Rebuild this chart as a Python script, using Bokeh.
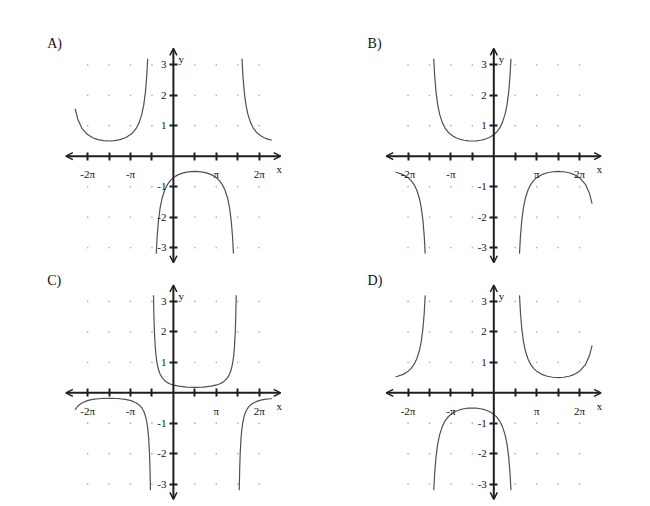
import math
from bokeh.plotting import figure
from bokeh.layouts import column, row
from bokeh.models import Range1d, LinearAxis, FixedTicker, Arrow, OpenHead, Label
from bokeh.core.properties import value
from bokeh.embed import file_html
from bokeh.resources import INLINE

PI = math.pi

# ---------------- tick data ----------------
x_tick_values = [-2 * PI, -1.5 * PI, -PI, -0.5 * PI, 0.5 * PI, PI, 1.5 * PI, 2 * PI]
x_tick_labels = ["-2π", "", "-π", "", "", "π", "", "2π"]
y_tick_values = [-3, -2, -1, 1, 2, 3]
y_tick_labels = ["-3", "-2", "-1", "1", "2", "3"]
panel_names = ["A)", "B)", "C)", "D)"]

# ---------------- curve data ----------------
# Panel A
a_left_x = [-7.2, -7.012, -6.712, -6.312, -5.912, -5.512, -5.112, -4.712, -4.312, -3.912,
            -3.512, -3.112, -2.912, -2.712, -2.512, -2.312, -2.172, -2.052, -1.952, -1.884]
a_left_y = [1.558, 1.224, 0.925, 0.718, 0.606, 0.543, 0.510, 0.500, 0.510, 0.543,
            0.606, 0.718, 0.804, 0.925, 1.102, 1.380, 1.688, 2.097, 2.639, 3.2]
a_mid_x = [-1.257, -1.189, -1.089, -0.969, -0.829, -0.629, -0.429, -0.229, -0.029, 0.171,
           0.371, 0.671, 0.971, 1.271, 1.571, 1.871, 2.171, 2.471, 2.771, 2.971,
           3.171, 3.371, 3.571, 3.771, 3.971, 4.111, 4.231, 4.331, 4.399]
a_mid_y = [-3.2, -2.639, -2.097, -1.688, -1.380, -1.102, -0.925, -0.804, -0.718, -0.654,
           -0.606, -0.555, -0.523, -0.506, -0.500, -0.506, -0.523, -0.555, -0.606, -0.654,
           -0.718, -0.804, -0.925, -1.102, -1.380, -1.688, -2.097, -2.639, -3.2]
a_right_x = [5.026, 5.094, 5.194, 5.314, 5.454, 5.654, 5.854, 6.054, 6.254, 6.454,
             6.654, 6.854, 7.054, 7.2]
a_right_y = [3.2, 2.639, 2.097, 1.688, 1.380, 1.102, 0.925, 0.804, 0.718, 0.654,
             0.606, 0.570, 0.543, 0.528]

# Panel B
b_left_x = [-7.2, -7.054, -6.854, -6.654, -6.454, -6.254, -6.054, -5.854, -5.654, -5.454,
            -5.314, -5.194, -5.094, -5.026]
b_left_y = [-0.528, -0.543, -0.570, -0.606, -0.654, -0.718, -0.804, -0.925, -1.102, -1.380,
            -1.688, -2.097, -2.639, -3.2]
b_mid_x = [-4.399, -4.331, -4.231, -4.111, -3.971, -3.771, -3.571, -3.371, -3.171, -2.971,
           -2.771, -2.471, -2.171, -1.871, -1.571, -1.271, -0.971, -0.671, -0.371, -0.171,
           0.029, 0.229, 0.429, 0.629, 0.829, 0.969, 1.089, 1.189, 1.257]
b_mid_y = [3.2, 2.639, 2.097, 1.688, 1.380, 1.102, 0.925, 0.804, 0.718, 0.654,
           0.606, 0.555, 0.523, 0.506, 0.500, 0.506, 0.523, 0.555, 0.606, 0.654,
           0.718, 0.804, 0.925, 1.102, 1.380, 1.688, 2.097, 2.639, 3.2]
b_right_x = [1.884, 1.952, 2.052, 2.172, 2.312, 2.512, 2.712, 2.912, 3.112, 3.512,
             3.912, 4.312, 4.712, 5.112, 5.512, 5.912, 6.312, 6.712, 7.012, 7.2]
b_right_y = [-3.2, -2.639, -2.097, -1.688, -1.380, -1.102, -0.925, -0.804, -0.718, -0.606,
             -0.543, -0.510, -0.500, -0.510, -0.543, -0.606, -0.718, -0.925, -1.224, -1.558]

# Panel C
c_left_x = [-7.2, -7.012, -6.712, -6.312, -5.912, -5.312, -4.712, -4.112, -3.512, -3.112,
            -2.712, -2.512, -2.312, -2.172, -2.052, -1.952, -1.872, -1.812, -1.752, -1.712, -1.683]
c_left_y = [-0.561, -0.441, -0.333, -0.258, -0.218, -0.188, -0.180, -0.188, -0.218, -0.258,
            -0.333, -0.397, -0.497, -0.608, -0.755, -0.950, -1.201, -1.494, -1.985, -2.545, -3.2]
c_mid_x = [-1.458, -1.429, -1.389, -1.329, -1.269, -1.189, -1.089, -0.969, -0.829, -0.629,
           -0.429, -0.229, -0.029, 0.371, 0.971, 1.571, 2.171, 2.771, 3.171, 3.371,
           3.571, 3.771, 3.971, 4.111, 4.231, 4.331, 4.411, 4.471, 4.531, 4.571, 4.600]
c_mid_y = [3.2, 2.545, 1.985, 1.494, 1.201, 0.950, 0.755, 0.608, 0.497, 0.397,
           0.333, 0.290, 0.258, 0.218, 0.188, 0.180, 0.188, 0.218, 0.258, 0.290,
           0.333, 0.397, 0.497, 0.608, 0.755, 0.950, 1.201, 1.494, 1.985, 2.545, 3.2]
c_right_x = [4.825, 4.854, 4.894, 4.954, 5.014, 5.094, 5.194, 5.314, 5.454, 5.654,
             5.854, 6.254, 6.654, 7.054, 7.2]
c_right_y = [-3.2, -2.545, -1.985, -1.494, -1.201, -0.950, -0.755, -0.608, -0.497, -0.397,
             -0.333, -0.258, -0.218, -0.195, -0.190]

# Panel D
d_left_x = [-7.2, -7.054, -6.854, -6.654, -6.454, -6.254, -6.054, -5.854, -5.654, -5.454,
            -5.314, -5.194, -5.094, -5.026]
d_left_y = [0.528, 0.543, 0.570, 0.606, 0.654, 0.718, 0.804, 0.925, 1.102, 1.380,
            1.688, 2.097, 2.639, 3.2]
d_mid_x = [-4.399, -4.331, -4.231, -4.111, -3.971, -3.771, -3.571, -3.371, -3.171, -2.971,
           -2.771, -2.471, -2.171, -1.871, -1.571, -1.271, -0.971, -0.671, -0.371, -0.171,
           0.029, 0.229, 0.429, 0.629, 0.829, 0.969, 1.089, 1.189, 1.257]
d_mid_y = [-3.2, -2.639, -2.097, -1.688, -1.380, -1.102, -0.925, -0.804, -0.718, -0.654,
           -0.606, -0.555, -0.523, -0.506, -0.500, -0.506, -0.523, -0.555, -0.606, -0.654,
           -0.718, -0.804, -0.925, -1.102, -1.380, -1.688, -2.097, -2.639, -3.2]
d_right_x = [1.884, 1.952, 2.052, 2.172, 2.312, 2.512, 2.712, 2.912, 3.112, 3.512,
             3.912, 4.312, 4.712, 5.112, 5.512, 5.912, 6.312, 6.712, 7.012, 7.2]
d_right_y = [3.2, 2.639, 2.097, 1.688, 1.380, 1.102, 0.925, 0.804, 0.718, 0.606,
             0.543, 0.510, 0.500, 0.510, 0.543, 0.606, 0.718, 0.925, 1.224, 1.558]

# ---------------- styling ----------------
XS = 13.65   # px per x unit
YS = 30.45   # px per y unit
SERIF = "Liberation Serif"
AXIS_COLOR = "#1e1e1e"
CURVE_COLOR = "#505050"
DOT_COLOR = "#b8b8b8"


def make_panel(name, branches, width, height, axis_x_px, axis_y_px):
    p = figure(width=width, height=height,
               x_range=Range1d(-axis_x_px / XS, (width - axis_x_px) / XS),
               y_range=Range1d(-(height - axis_y_px) / YS, axis_y_px / YS),
               x_axis_type=None, y_axis_type=None, toolbar_location=None,
               output_backend="svg", min_border=0, outline_line_color=None,
               background_fill_color="white", border_fill_color="white")

    # dotted grid
    gx = [xv for xv in x_tick_values for yv in y_tick_values]
    gy = [yv for xv in x_tick_values for yv in y_tick_values]
    p.scatter(gx, gy, size=1.8, fill_color=DOT_COLOR, line_color=None)

    # axes lines with open arrowheads
    p.add_layout(Arrow(start=OpenHead(size=7, line_width=1.5, line_color=AXIS_COLOR),
                       end=OpenHead(size=7, line_width=1.5, line_color=AXIS_COLOR),
                       x_start=-7.88, y_start=0, x_end=7.86, y_end=0,
                       line_width=2, line_color=AXIS_COLOR))
    p.add_layout(Arrow(start=OpenHead(size=7, line_width=1.5, line_color=AXIS_COLOR),
                       end=OpenHead(size=7, line_width=1.5, line_color=AXIS_COLOR),
                       x_start=0, y_start=-3.5, x_end=0, y_end=3.54,
                       line_width=2, line_color=AXIS_COLOR))

    xa = LinearAxis(fixed_location=0, ticker=FixedTicker(ticks=x_tick_values),
                    major_label_overrides=dict(zip(x_tick_values, x_tick_labels)),
                    axis_line_color=None, major_tick_in=4, major_tick_out=4,
                    major_tick_line_width=2, major_tick_line_color=AXIS_COLOR,
                    minor_tick_line_color=None, major_label_standoff=8,
                    major_label_text_font=SERIF, major_label_text_font_size="11px",
                    major_label_text_color="#111111")
    p.add_layout(xa, "below")
    ya = LinearAxis(fixed_location=0, ticker=FixedTicker(ticks=y_tick_values),
                    major_label_overrides=dict(zip(y_tick_values, y_tick_labels)),
                    axis_line_color=None, major_tick_in=4, major_tick_out=4,
                    major_tick_line_width=2, major_tick_line_color=AXIS_COLOR,
                    minor_tick_line_color=None, major_label_standoff=3,
                    major_label_text_font=SERIF, major_label_text_font_size="11px",
                    major_label_text_color="#111111")
    p.add_layout(ya, "left")

    for bx, by in branches:
        p.line(bx, by, line_color=CURVE_COLOR, line_width=1.2)

    # axis names
    p.text(x=[0, 7.55], y=[3.19, -0.43], text=["y", "x"], x_offset=[5, 0],
           text_font=value(SERIF), text_font_size=value("11px"),
           text_baseline="alphabetic", text_align="left", text_color="#111111")

    p.add_layout(Label(x=-9.25, y=3.7, text=name, text_font=SERIF,
                       text_font_size="14px", text_baseline="alphabetic",
                       text_align="left", text_color="#111111"))
    return p


# the page is drawn from its top-left corner, so the 8px page margin is
# included inside the figures themselves
W1, W2 = 328, 322
H1, H2 = 265, 241

pA = make_panel(panel_names[0], [(a_left_x, a_left_y), (a_mid_x, a_mid_y), (a_right_x, a_right_y)],
                W1, H1, 172.9, 155.7)
pB = make_panel(panel_names[1], [(b_left_x, b_left_y), (b_mid_x, b_mid_y), (b_right_x, b_right_y)],
                W2, H1, 165.3, 155.7)
pC = make_panel(panel_names[2], [(c_left_x, c_left_y), (c_mid_x, c_mid_y), (c_right_x, c_right_y)],
                W1, H2, 172.9, 127.3)
pD = make_panel(panel_names[3], [(d_left_x, d_left_y), (d_mid_x, d_mid_y), (d_right_x, d_right_y)],
                W2, H2, 165.3, 127.3)

layout = column(row(pA, pB), row(pC, pD))

open("out.html", "w").write(file_html(layout, INLINE))
